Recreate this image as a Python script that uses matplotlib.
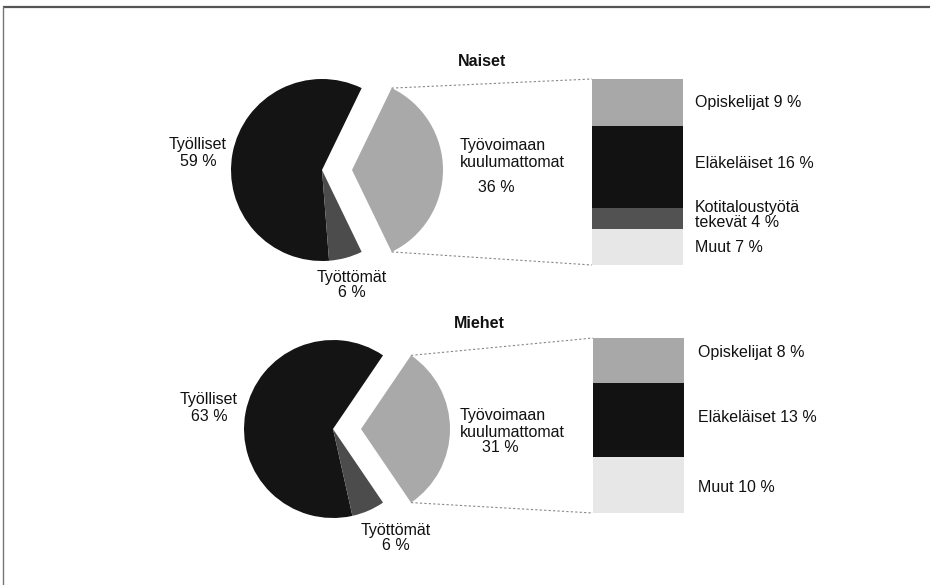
import matplotlib
matplotlib.use("Agg")
import matplotlib.pyplot as plt
import numpy as np

plt.rcParams['font.family'] = ['Liberation Sans Narrow', 'Liberation Sans', 'DejaVu Sans']

# ---- data ----
titles = ["Naiset", "Miehet"]
pie_labels = ["Työvoimaan kuulumattomat", "Työlliset", "Työttömät"]
naiset_pie = [36, 59, 6]
miehet_pie = [31, 63, 6]
naiset_bar_labels = ["Opiskelijat", "Eläkeläiset", "Kotitaloustyötä\ntekevät", "Muut"]
naiset_bar = [9, 16, 4, 7]
miehet_bar_labels = ["Opiskelijat", "Eläkeläiset", "Muut"]
miehet_bar = [8, 13, 10]

W, H = 930, 585
fig = plt.figure(figsize=(W / 100, H / 100), dpi=100)
ax = fig.add_axes([0, 0, 1, 1])


def Y(py):
    return H - py


pie_colors = ['#a9a9a9', '#141414', '#4c4c4c']
bar_colors_n = ['#a8a8a8', '#121212', '#525252', '#e7e7e7']
bar_colors_m = ['#a8a8a8', '#121212', '#e7e7e7']

fs = 11.5


def draw(pie_vals, center, radius, explode, bar_vals, bar_cols, bar_x0, bar_x1, bar_top, bar_bot):
    total = sum(pie_vals)
    start = -pie_vals[0] / total * 360 / 2
    wedges, _ = ax.pie(pie_vals, colors=pie_colors, startangle=start,
                       center=(center[0], Y(center[1])), radius=radius,
                       explode=[explode, 0, 0], counterclock=True,
                       wedgeprops=dict(linewidth=0))
    w = wedges[0]
    cx, cy = w.center
    r = w.r
    p_top = (cx + r * np.cos(np.radians(w.theta2)), cy + r * np.sin(np.radians(w.theta2)))
    p_bot = (cx + r * np.cos(np.radians(w.theta1)), cy + r * np.sin(np.radians(w.theta1)))
    # stacked bar (top to bottom)
    hpx = bar_bot - bar_top
    btotal = sum(bar_vals)
    heights = [v / btotal * hpx for v in bar_vals]
    top = Y(bar_top)
    bx = (bar_x0 + bar_x1) / 2
    for h, c in zip(heights, bar_cols):
        ax.bar(bx, h, bottom=top - h, width=bar_x1 - bar_x0, color=c, linewidth=0)
        top -= h
    # connectors
    ax.plot([p_top[0], bar_x0], [p_top[1], Y(bar_top)], ls=(0, (2, 2)), color='#888888', lw=0.8)
    ax.plot([p_bot[0], bar_x0], [p_bot[1], Y(bar_bot)], ls=(0, (2, 2)), color='#888888', lw=0.8)


draw(naiset_pie, (322, 170), 91, 30, naiset_bar, bar_colors_n, 592, 683, 79, 265)
draw(miehet_pie, (333, 429), 89, 28, miehet_bar, bar_colors_m, 593, 684, 338, 513)

ax.set_xlim(0, W)
ax.set_ylim(0, H)
ax.set_aspect('auto')
ax.axis('off')

# frame
ax.plot([3, W], [Y(7), Y(7)], color='#555555', lw=1.6, solid_capstyle='butt')
ax.plot([3, 3], [Y(7), 0], color='#777777', lw=1.0)

kw = dict(fontsize=fs, color='#111111')

# titles
ax.text(482, Y(61), titles[0], ha='center', va='center', fontweight='bold', **kw)
ax.text(479, Y(323), titles[1], ha='center', va='center', fontweight='bold', **kw)

# Naiset labels
ax.text(198, Y(153), f"{pie_labels[1]}\n{naiset_pie[1]} %", ha='center', va='center', linespacing=1.15, **kw)
ax.text(352, Y(285), f"{pie_labels[2]}\n{naiset_pie[2]} %", ha='center', va='center', linespacing=1.0, **kw)
ax.text(460, Y(154), "Työvoimaan\nkuulumattomat", ha='left', va='center', linespacing=1.15, **kw)
ax.text(478, Y(187), f"{naiset_pie[0]} %", ha='left', va='center', **kw)
ny = [102, 163, 215, 247]
for lab, v, yy in zip(naiset_bar_labels, naiset_bar, ny):
    ax.text(695, Y(yy), f"{lab} {v} %", ha='left', va='center', linespacing=0.95, **kw)

# Miehet labels
ax.text(209, Y(408), f"{pie_labels[1]}\n{miehet_pie[1]} %", ha='center', va='center', linespacing=1.15, **kw)
ax.text(396, Y(538), f"{pie_labels[2]}\n{miehet_pie[2]} %", ha='center', va='center', linespacing=1.0, **kw)
ax.text(460, Y(424), "Työvoimaan\nkuulumattomat", ha='left', va='center', linespacing=1.15, **kw)
ax.text(482, Y(447), f"{miehet_pie[0]} %", ha='left', va='center', **kw)
my = [353, 417, 487]
for lab, v, yy in zip(miehet_bar_labels, miehet_bar, my):
    ax.text(698, Y(yy), f"{lab} {v} %", ha='left', va='center', **kw)

fig.savefig("out.png", dpi=100, facecolor='white')
